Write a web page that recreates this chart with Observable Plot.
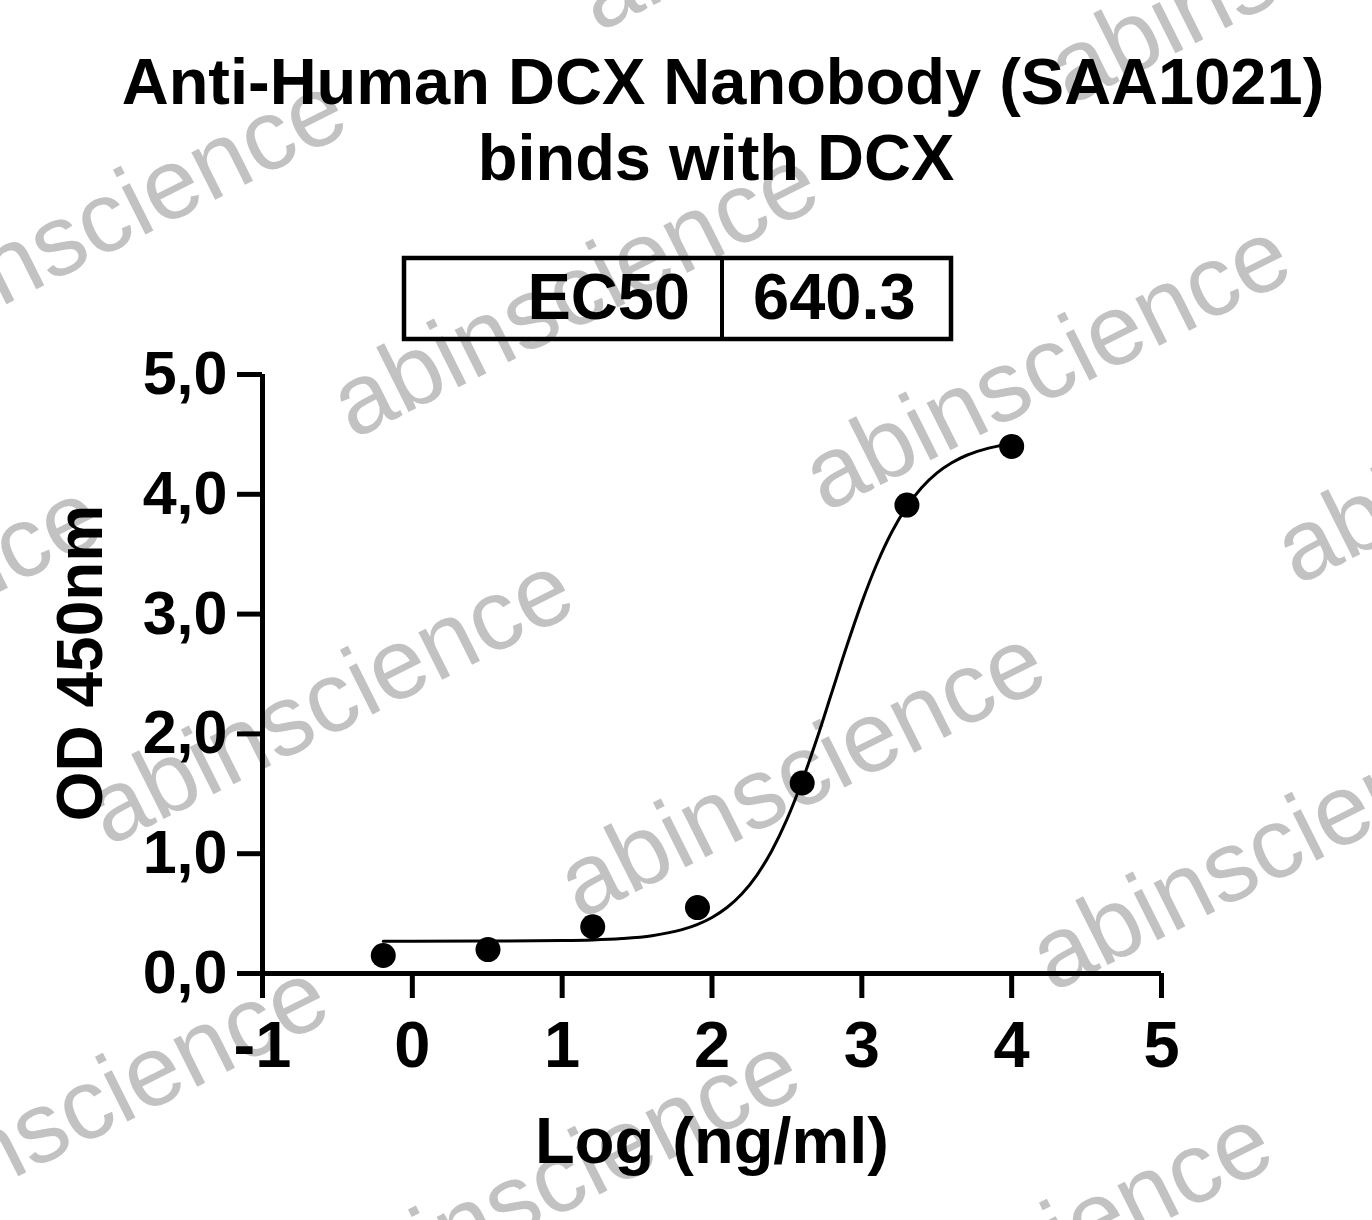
<!DOCTYPE html>
<html>
<head>
<meta charset="utf-8">
<script src="https://cdn.jsdelivr.net/npm/d3@7"></script>
<script src="https://cdn.jsdelivr.net/npm/@observablehq/plot@0.6"></script>
<style>
  html, body { margin: 0; padding: 0; background: #fff; }
  #wrap { position: relative; width: 1372px; height: 1220px; overflow: hidden; background: #fff; }
  #wrap > svg { position: absolute; left: 0; top: 0; }
</style>
</head>
<body>
<div id="wrap"></div>
<script>
// ---- data ----
const titleLines = ["Anti-Human DCX Nanobody (SAA1021)", "binds with DCX"];
const ec50Label = "EC50";
const ec50Value = "640.3";
const xLabel = "Log (ng/ml)";
const yLabel = "OD 450nm";
const xTicks = [-1, 0, 1, 2, 3, 4, 5];
const yTicks = [0, 1, 2, 3, 4, 5];
// measured points (log concentration, OD450)
const logConc = [-0.194, 0.505, 1.204, 1.903, 2.602, 3.301, 4.0];
const od450 = [0.15, 0.20, 0.39, 0.55, 1.59, 3.91, 4.40];
// fitted curve
const fitX = [-0.194, 0.0, 0.5, 1.0, 1.2, 1.4, 1.6, 1.8, 1.9, 2.0, 2.1, 2.2, 2.3, 2.4, 2.5, 2.6, 2.7, 2.8, 2.9, 3.0, 3.1, 3.2, 3.3, 3.4, 3.5, 3.6, 3.7, 3.8, 3.9, 4.0];
const fitY = [0.270, 0.270, 0.271, 0.275, 0.280, 0.292, 0.316, 0.366, 0.408, 0.468, 0.551, 0.666, 0.822, 1.027, 1.286, 1.600, 1.959, 2.347, 2.735, 3.098, 3.418, 3.685, 3.896, 4.057, 4.177, 4.263, 4.326, 4.369, 4.400, 4.422];
const watermarkText = "abinscience";

const points = logConc.map((x, i) => ({x, y: od450[i]}));
const fit = fitX.map((x, i) => ({x, y: fitY[i]}));

const FONT = '"Liberation Sans", Arial, Helvetica, sans-serif';
const wrap = document.getElementById("wrap");
const NS = "http://www.w3.org/2000/svg";

// ---- watermark layer ----
const wm = document.createElementNS(NS, "svg");
wm.setAttribute("width", 1372); wm.setAttribute("height", 1220);
const base = [108, 847], u = [472, 73], v = [-245, 407];
for (let i = -3; i <= 4; i++) {
  for (let j = -4; j <= 4; j++) {
    const px = base[0] + i * u[0] + j * v[0];
    const py = base[1] + i * u[1] + j * v[1];
    if (px < -700 || px > 1500 || py < -100 || py > 1550) continue;
    const t = document.createElementNS(NS, "text");
    t.setAttribute("transform", `translate(${px},${py}) rotate(-26.6)`);
    t.setAttribute("font-family", FONT);
    t.setAttribute("font-size", 100);
    t.setAttribute("fill", "#c2c2c2");
    t.textContent = watermarkText;
    wm.appendChild(t);
  }
}
wrap.appendChild(wm);

// ---- chart ----
const chart = Plot.plot({
  width: 1372,
  height: 1220,
  marginLeft: 262,
  marginRight: 211,
  marginTop: 374,
  marginBottom: 247,
  style: {background: "transparent", fontFamily: FONT, color: "black"},
  x: {domain: [-1, 5]},
  y: {domain: [0, 5]},
  marks: [
    Plot.axisX({ticks: xTicks, tickSize: 25, tickPadding: 22, strokeWidth: 5, tickFormat: d => String(d), label: null, fontSize: 65, fontWeight: "bold"}),
    Plot.axisY({ticks: yTicks, tickSize: 25, tickPadding: 10, strokeWidth: 5, tickFormat: d => d.toFixed(1).replace(".", ","), label: null, fontSize: 61, fontWeight: "bold"}),
    Plot.ruleY([0], {strokeWidth: 5}),
    Plot.ruleX([-1], {strokeWidth: 5}),
    Plot.line(fit, {x: "x", y: "y", stroke: "black", strokeWidth: 3, curve: "monotone-x"}),
    Plot.dot(points, {x: "x", y: "y", r: 12.5, fill: "black", stroke: "none"}),
    Plot.text([yLabel], {frameAnchor: "left", textAnchor: "middle", rotate: -90, dx: -181, dy: -11, fontSize: 64, fontWeight: "bold", fill: "black"}),
    Plot.text([xLabel], {frameAnchor: "bottom", textAnchor: "middle", dy: 189, fontSize: 65, fontWeight: "bold", fill: "black"})
  ]
});
wrap.appendChild(chart);

// ---- title & EC50 box ----
const ov = document.createElementNS(NS, "svg");
ov.setAttribute("width", 1372); ov.setAttribute("height", 1220);
ov.style.pointerEvents = "none";
function addText(str, x, y, anchor) {
  const t = document.createElementNS(NS, "text");
  t.setAttribute("x", x); t.setAttribute("y", y);
  t.setAttribute("text-anchor", anchor);
  t.setAttribute("font-family", FONT);
  t.setAttribute("font-size", 65);
  t.setAttribute("font-weight", "bold");
  t.textContent = str;
  ov.appendChild(t);
}
addText(titleLines[0], 723, 104, "middle");
addText(titleLines[1], 716, 180, "middle");
const rect = document.createElementNS(NS, "rect");
rect.setAttribute("x", 404); rect.setAttribute("y", 258);
rect.setAttribute("width", 547); rect.setAttribute("height", 81);
rect.setAttribute("fill", "none"); rect.setAttribute("stroke", "black"); rect.setAttribute("stroke-width", 4.5);
ov.appendChild(rect);
const div = document.createElementNS(NS, "line");
div.setAttribute("x1", 722); div.setAttribute("x2", 722);
div.setAttribute("y1", 258); div.setAttribute("y2", 339);
div.setAttribute("stroke", "black"); div.setAttribute("stroke-width", 4);
ov.appendChild(div);
addText(ec50Label, 690, 319, "end");
addText(ec50Value, 753, 319, "start");
wrap.appendChild(ov);
</script>
</body>
</html>
